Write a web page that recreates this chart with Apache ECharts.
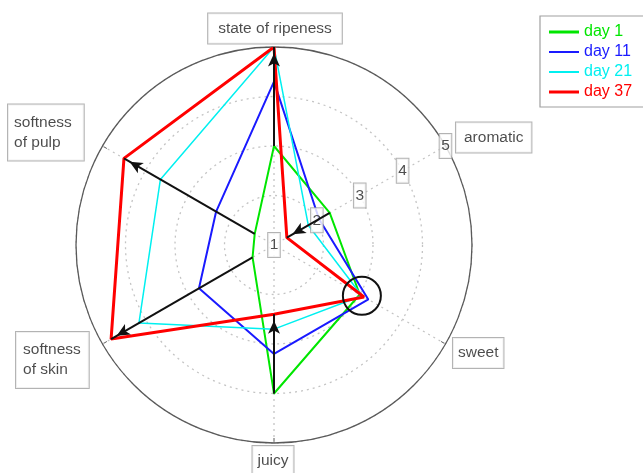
<!DOCTYPE html>
<html>
<head>
<meta charset="utf-8">
<script src="https://cdn.jsdelivr.net/npm/echarts@6/dist/echarts.min.js"></script>
<style>
  html, body { margin: 0; padding: 0; background: #fff; }
  #chart { width: 643px; height: 473px; }
</style>
</head>
<body>
<div id="chart"></div>
<script>
// Sensory profile axes, clockwise from the top
const categories = ['state of ripeness', 'aromatic', 'sweet', 'juicy', 'softness\nof skin', 'softness\nof pulp'];
const seriesNames = ['day 1', 'day 11', 'day 21', 'day 37'];

// Scores per axis (same order as categories), scale 1..5
const day1  = [3.0, 2.3, 3.0, 4.0, 1.5, 1.45];
const day11 = [4.3, 2.05, 3.2, 3.2, 2.75, 2.35];
const day21 = [5.0, 1.8, 3.05, 2.7, 4.15, 3.65];
const day37 = [5.0, 1.3, 3.1, 2.4, 4.8, 4.5];

// Radial scale ticks
const tickValues = [1, 2, 3, 4, 5];
const tickLabels = ['1', '2', '3', '4', '5'];

// Axes that get a "day 1 -> day 37" arrow, and the circled spot on "sweet"
const arrowAxes = [0, 1, 3, 4, 5];
const circledAxis = 2;
const circledValue = 3.05;

const seriesColors = ['#00e600', '#1a1aff', '#00f0f0', '#ff0000'];
const seriesWidths = [2, 2, 1.5, 3];
const legendIcons = [
  'path://M0,0H30V3H0Z',
  'path://M0,0H30V2H0Z',
  'path://M0,0H30V2H0Z',
  'path://M0,0H30V3H0Z'
];
const FONT = '"Liberation Sans", Arial, Helvetica, sans-serif';

// Label box layout for each axis name
const nameLayout = [
  { align: 'center', offset: [1, -18.5], padding: [5, 10] },
  { align: 'left', offset: [10.5, -8.5], padding: [5, 8] },
  { align: 'left', offset: [7.5, 9], padding: [5, 5] },
  { align: 'center', offset: [-1, 18], padding: [5, 5] },
  { align: 'left', offset: [-86.5, 16], padding: [8, 8, 8, 7] },
  { align: 'left', offset: [-94.5, -13.5], padding: [8, 12, 8, 6] }
];

// Angle (angle-axis value) of each category: the angle axis starts on "aromatic"
const angleOf = i => (300 + 60 * i) % 360;
// Screen direction (degrees, counter-clockwise from east) of each category axis
const screenAngleOf = i => 90 - 60 * i;

const allDays = [day1, day11, day21, day37];

const polygonSeries = allDays.map((vals, s) => {
  const pts = vals.map((v, i) => [v, angleOf(i)]);
  pts.push(pts[0]);
  return {
    name: seriesNames[s],
    type: 'line',
    coordinateSystem: 'polar',
    data: pts,
    symbol: 'none',
    z: 2,
    lineStyle: { color: seriesColors[s], width: seriesWidths[s] },
    itemStyle: { color: seriesColors[s] },
    silent: true
  };
});

const ARROW_W = 9, ARROW_H = 13;
const arrowSeries = arrowAxes.map(i => {
  const from = day1[i], to = day37[i];
  const dir = screenAngleOf(i) + (to > from ? 0 : 180);
  const rad = dir * Math.PI / 180;
  return {
    type: 'line',
    coordinateSystem: 'polar',
    z: 4,
    silent: true,
    symbol: 'none',
    lineStyle: { color: '#111', width: 2 },
    itemStyle: { color: '#111' },
    data: [
      { value: [from, angleOf(i)], symbol: 'none' },
      {
        value: [to, angleOf(i)],
        symbol: 'arrow',
        symbolSize: [ARROW_W, ARROW_H],
        symbolRotate: dir - 90,
        symbolOffset: [-Math.cos(rad) * ARROW_H / 2, Math.sin(rad) * ARROW_H / 2]
      }
    ]
  };
});

const circleSeries = {
  type: 'scatter',
  coordinateSystem: 'polar',
  z: 4,
  silent: true,
  symbol: 'circle',
  symbolSize: 38,
  itemStyle: { color: 'rgba(0,0,0,0)', borderColor: '#111', borderWidth: 2, opacity: 1 },
  data: [[circledValue, angleOf(circledAxis)]]
};

const tickLabelSeries = {
  type: 'scatter',
  coordinateSystem: 'polar',
  z: 3,
  silent: true,
  symbolSize: 1,
  itemStyle: { color: 'rgba(0,0,0,0)' },
  label: {
    show: true,
    position: 'inside',
    formatter: p => tickLabels[p.dataIndex],
    fontFamily: FONT,
    fontSize: 15.5,
    color: '#222',
    backgroundColor: '#fff',
    borderColor: '#a0a0a0',
    borderWidth: 1,
    padding: [4, 1.5]
  },
  data: tickValues.map(v => [v, angleOf(1)])
};

const nameSeries = {
  type: 'scatter',
  coordinateSystem: 'polar',
  z: 5,
  silent: true,
  symbolSize: 1,
  itemStyle: { color: 'rgba(0,0,0,0)' },
  label: {
    show: true,
    position: 'inside',
    formatter: p => categories[p.dataIndex],
    fontFamily: FONT,
    fontSize: 15.5,
    lineHeight: 20,
    color: '#1e1e1e',
    backgroundColor: '#fff',
    borderColor: '#a0a0a0',
    borderWidth: 1,
    verticalAlign: 'middle'
  },
  data: categories.map((c, i) => ({
    value: [tickValues[tickValues.length - 1], angleOf(i)],
    label: {
      align: nameLayout[i].align,
      offset: nameLayout[i].offset,
      padding: nameLayout[i].padding
    }
  }))
};

const chart = echarts.init(document.getElementById('chart'), null, { renderer: 'canvas' });
chart.setOption({
  animation: false,
  backgroundColor: '#fff',
  polar: { center: [274, 245], radius: 198 },
  angleAxis: {
    type: 'value',
    min: 0,
    max: 360,
    interval: 60,
    startAngle: 30,
    clockwise: true,
    axisLine: { show: true, lineStyle: { color: '#5a5a5a', width: 1.3 } },
    axisTick: { show: true, inside: true, length: 5, lineStyle: { color: '#5a5a5a', width: 1 } },
    axisLabel: { show: false },
    splitLine: { show: true, lineStyle: { color: '#c4c4c4', width: 1.3, type: [2, 4] } }
  },
  radiusAxis: {
    type: 'value',
    min: 1,
    max: 5,
    interval: 1,
    axisLine: { show: false },
    axisTick: { show: false },
    axisLabel: { show: false },
    splitLine: { show: true, lineStyle: { color: '#c4c4c4', width: 1.3, type: [2, 4] } }
  },
  legend: {
    orient: 'vertical',
    left: 540,
    top: 16,
    padding: [8, 14, 7, 9],
    itemGap: 4,
    itemWidth: 30,
    itemHeight: 16,
    borderColor: '#a0a0a0',
    borderWidth: 1.2,
    backgroundColor: '#fff',
    textStyle: { fontFamily: FONT, fontSize: 16, lineHeight: 16 },
    data: seriesNames.map((n, s) => ({
      name: n,
      icon: legendIcons[s],
      itemStyle: { color: seriesColors[s], borderWidth: 0 },
      textStyle: { color: seriesColors[s] }
    }))
  },
  series: [...polygonSeries, tickLabelSeries, ...arrowSeries, circleSeries, nameSeries]
});
</script>
</body>
</html>
